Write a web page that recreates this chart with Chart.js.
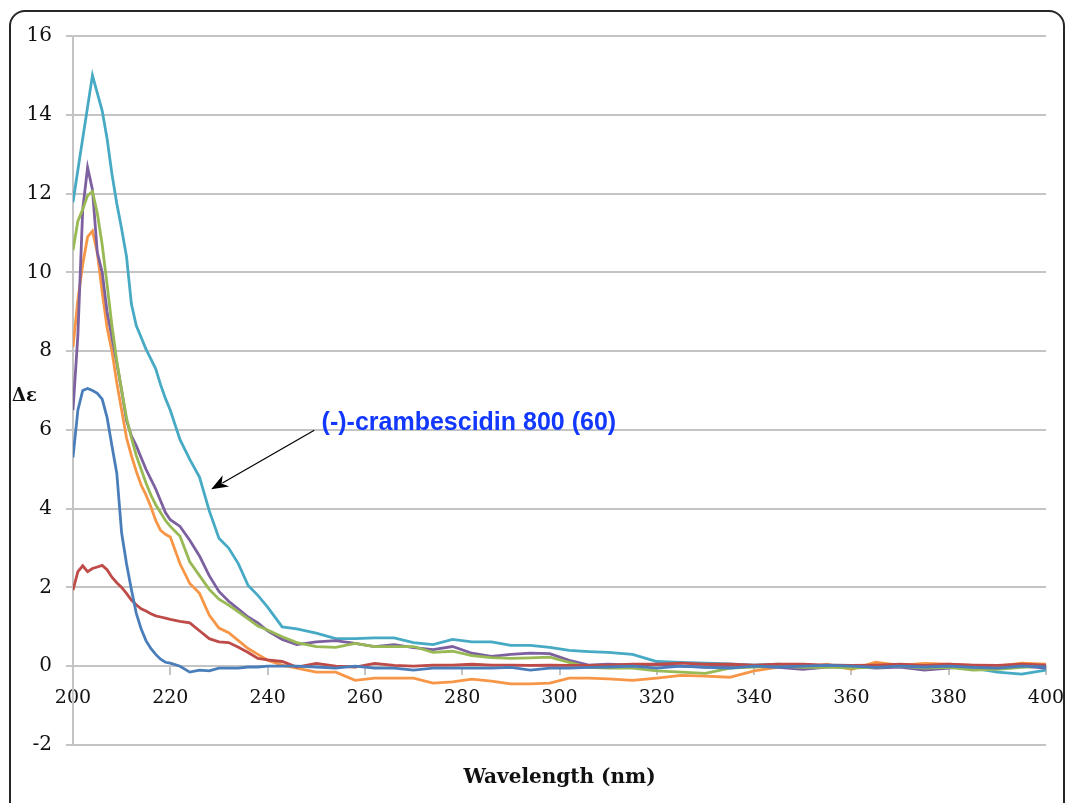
<!DOCTYPE html>
<html>
<head>
<meta charset="utf-8">
<script src="https://cdn.jsdelivr.net/npm/chart.js@4.4.1/dist/chart.umd.min.js"></script>
<style>
  html, body { margin: 0; padding: 0; background: #ffffff; overflow: hidden; }
  #wrap { position: relative; width: 1066px; height: 803px; }
  #frame { position: absolute; left: 9px; top: 10px; width: 1052px; height: 900px;
           border: 2px solid #262626; border-radius: 16px; box-sizing: content-box; }
  #c { position: absolute; left: 0; top: 0; }
</style>
</head>
<body>
<div id="wrap">
  <div id="frame"></div>
  <canvas id="c" width="1066" height="803"></canvas>
</div>
<script>
// ---- data ----
const wavelengths = [200,201,202,203,204,205,206,207,208,209,210,211,212,213,214,215,216,217,218,219,220,
  222,224,226,228,230,232,234,236,238,240,243,246,250,254,258,262,266,270,274,278,282,286,290,294,298,302,306,310,
  315,320,325,330,335,340,345,350,355,360,365,370,375,380,385,390,395,400];

const seriesBlue = [5.3,6.5,7.0,7.05,7.0,6.93,6.78,6.32,5.6,4.9,3.38,2.6,1.95,1.35,0.95,0.65,0.45,0.3,0.18,0.1,0.08,
  0.0,-0.15,-0.1,-0.12,-0.05,-0.05,-0.05,-0.02,-0.02,0.0,0.0,0.0,-0.02,-0.05,0.0,-0.05,-0.05,-0.1,-0.05,-0.05,-0.05,-0.05,-0.03,-0.1,-0.05,-0.05,-0.03,-0.02,
  0.0,-0.05,0.0,-0.03,-0.05,0.0,-0.02,0.0,0.02,0.0,-0.03,0.0,-0.02,0.0,-0.03,-0.05,0.0,-0.02];

const seriesRed = [1.93,2.4,2.55,2.4,2.48,2.52,2.56,2.45,2.26,2.12,2.0,1.85,1.68,1.56,1.46,1.4,1.33,1.28,1.25,1.22,1.19,
  1.14,1.1,0.9,0.7,0.62,0.6,0.48,0.35,0.2,0.16,0.12,-0.02,0.07,0.0,-0.02,0.07,0.02,0.0,0.03,0.03,0.05,0.03,0.03,0.02,0.03,0.02,0.02,0.03,
  0.05,0.05,0.08,0.05,0.05,0.03,0.05,0.05,0.03,0.02,0.03,0.05,0.02,0.05,0.03,0.02,0.05,0.03];

const seriesGreen = [10.56,11.3,11.6,11.95,12.05,11.5,10.7,9.7,8.65,7.75,7.0,6.3,5.8,5.35,5.0,4.65,4.35,4.1,3.9,3.7,3.55,
  3.3,2.65,2.3,1.95,1.7,1.55,1.38,1.2,1.02,0.92,0.75,0.6,0.5,0.48,0.58,0.5,0.5,0.5,0.35,0.38,0.27,0.22,0.2,0.21,0.23,0.1,-0.03,-0.05,
  -0.05,-0.12,-0.15,-0.18,-0.05,-0.02,0.0,-0.03,-0.02,-0.05,-0.02,0.0,-0.05,-0.03,-0.1,-0.08,-0.03,0.0];

const seriesPurple = [6.5,8.4,11.6,12.66,12.1,10.5,10.0,9.0,8.35,7.7,7.0,6.24,5.85,5.6,5.3,5.0,4.75,4.5,4.2,3.9,3.72,
  3.55,3.2,2.8,2.3,1.9,1.65,1.45,1.25,1.1,0.9,0.68,0.55,0.62,0.65,0.58,0.5,0.55,0.47,0.42,0.5,0.33,0.25,0.3,0.33,0.32,0.15,0.03,0.05,
  0.03,0.05,0.0,-0.02,0.02,0.0,-0.03,-0.08,-0.02,0.0,-0.05,-0.02,-0.1,-0.05,0.0,-0.05,0.0,-0.05];

const seriesCyan = [11.78,12.6,13.4,14.2,15.0,14.55,14.1,13.4,12.5,11.75,11.1,10.4,9.2,8.65,8.35,8.05,7.8,7.55,7.15,6.8,6.5,
  5.75,5.25,4.8,3.95,3.25,3.0,2.6,2.05,1.8,1.5,1.0,0.95,0.84,0.7,0.7,0.72,0.72,0.6,0.55,0.68,0.62,0.62,0.53,0.53,0.48,0.4,0.37,0.35,
  0.3,0.12,0.1,0.08,0.06,0.03,0.05,0.0,0.03,0.02,-0.02,0.0,0.02,0.0,-0.05,-0.15,-0.2,-0.1];

const seriesOrange = [8.1,9.3,10.2,10.9,11.05,10.5,9.5,8.6,8.0,7.2,6.5,5.8,5.35,4.95,4.6,4.35,4.05,3.7,3.45,3.35,3.28,
  2.6,2.1,1.85,1.3,0.97,0.85,0.65,0.45,0.3,0.15,0.03,-0.05,-0.15,-0.15,-0.36,-0.3,-0.3,-0.3,-0.43,-0.4,-0.33,-0.38,-0.45,-0.45,-0.43,-0.3,-0.3,-0.32,
  -0.36,-0.3,-0.23,-0.25,-0.28,-0.12,-0.02,-0.05,0.05,-0.08,0.1,0.02,0.07,0.05,0.02,0.0,0.08,0.05];

const xTicks = [200,220,240,260,280,300,320,340,360,380,400];
const yTicks = [-2,0,2,4,6,8,10,12,14,16];

const xTitle = 'Wavelength (nm)';
const yTitle = 'Δε';
const annotationText = '(-)-crambescidin 800 (60)';
const annotationTextAt = [251.1, 6.0];   // [nm, Δε] of text baseline start
const arrowFrom = [249.6, 5.99];         // [nm, Δε]
const arrowTo = [228.4, 4.49];           // [nm, Δε]

// ---- chart ----
const colors = {
  blue: '#4A7EBB', red: '#BE4B48', green: '#98B954',
  purple: '#7D60A0', cyan: '#46AAC5', orange: '#F79646'
};
const seriesList = [
  ['blue', seriesBlue], ['red', seriesRed], ['green', seriesGreen],
  ['purple', seriesPurple], ['cyan', seriesCyan], ['orange', seriesOrange]
];
const datasets = seriesList.map(([name, vals]) => ({
  label: name,
  data: wavelengths.map((w, i) => ({ x: w, y: vals[i] })),
  borderColor: colors[name],
  backgroundColor: colors[name],
  borderWidth: 2.8,
  pointRadius: 0,
  tension: 0,
  fill: false
}));

const gridGray = '#C4C4C4';
const serif = '"DejaVu Serif", "Liberation Serif", serif';

const overlayPlugin = {
  id: 'overlay',
  afterDraw(chart) {
    const ctx = chart.ctx;
    const xs = chart.scales.x, ys = chart.scales.y;
    const ca = chart.chartArea;
    ctx.save();
    // x axis title
    ctx.fillStyle = '#111';
    ctx.font = 'bold 20px ' + serif;
    ctx.textAlign = 'center';
    ctx.textBaseline = 'middle';
    ctx.fillText(xTitle, (ca.left + ca.right) / 2, ca.bottom + 33);
    // y axis title (horizontal)
    ctx.font = 'bold 18px ' + serif;
    ctx.textAlign = 'left';
    ctx.fillText(yTitle, 12, ys.getPixelForValue(6.85));
    // annotation text
    ctx.fillStyle = '#1238FF';
    ctx.font = 'bold 25px "Liberation Sans", Arial, sans-serif';
    ctx.textAlign = 'left';
    ctx.textBaseline = 'alphabetic';
    ctx.fillText(annotationText, xs.getPixelForValue(annotationTextAt[0]), ys.getPixelForValue(annotationTextAt[1]));
    // arrow
    const x1 = xs.getPixelForValue(arrowFrom[0]), y1 = ys.getPixelForValue(arrowFrom[1]);
    const x2 = xs.getPixelForValue(arrowTo[0]), y2 = ys.getPixelForValue(arrowTo[1]);
    const ang = Math.atan2(y2 - y1, x2 - x1);
    const L = 17, W = 6.5;
    ctx.strokeStyle = '#000';
    ctx.lineWidth = 1.2;
    ctx.beginPath();
    ctx.moveTo(x1, y1);
    ctx.lineTo(x2 - Math.cos(ang) * (L - 4), y2 - Math.sin(ang) * (L - 4));
    ctx.stroke();
    ctx.fillStyle = '#000';
    ctx.beginPath();
    ctx.moveTo(x2, y2);
    ctx.lineTo(x2 - Math.cos(ang) * L + Math.sin(ang) * W, y2 - Math.sin(ang) * L - Math.cos(ang) * W);
    ctx.lineTo(x2 - Math.cos(ang) * (L - 5), y2 - Math.sin(ang) * (L - 5));
    ctx.lineTo(x2 - Math.cos(ang) * L - Math.sin(ang) * W, y2 - Math.sin(ang) * L + Math.cos(ang) * W);
    ctx.closePath();
    ctx.fill();
    ctx.restore();
  }
};

new Chart(document.getElementById('c'), {
  type: 'line',
  data: { datasets },
  options: {
    responsive: false,
    animation: false,
    devicePixelRatio: 1,
    layout: { padding: { left: 0, top: 36, right: 20, bottom: 58 } },
    plugins: {
      legend: { display: false },
      tooltip: { enabled: false },
      title: { display: false }
    },
    scales: {
      x: {
        type: 'linear',
        position: { y: 0 },
        min: 200, max: 400,
        afterBuildTicks(scale) { scale.ticks = xTicks.map(v => ({ value: v })); },
        afterFit(scale) { scale.paddingLeft = 0; scale.paddingRight = 0; },
        ticks: {
          autoSkip: false, maxRotation: 0, padding: 12,
          color: '#111',
          font: { family: serif, size: 19 },
          callback: v => String(v)
        },
        grid: { display: true, drawOnChartArea: false, drawTicks: true, tickLength: 8, color: gridGray, lineWidth: 2 },
        border: { display: true, color: gridGray, width: 2 }
      },
      y: {
        type: 'linear',
        position: 'left',
        min: -2, max: 16,
        afterBuildTicks(scale) { scale.ticks = yTicks.map(v => ({ value: v })); },
        afterFit(scale) { scale.width = 73; },
        ticks: {
          padding: 14,
          color: '#111',
          font: { family: serif, size: 20 },
          callback: v => String(v)
        },
        grid: { display: true, drawTicks: true, tickLength: 7, color: gridGray, lineWidth: 2 },
        border: { display: true, color: gridGray, width: 2 }
      }
    }
  },
  plugins: [overlayPlugin]
});
</script>
</body>
</html>
